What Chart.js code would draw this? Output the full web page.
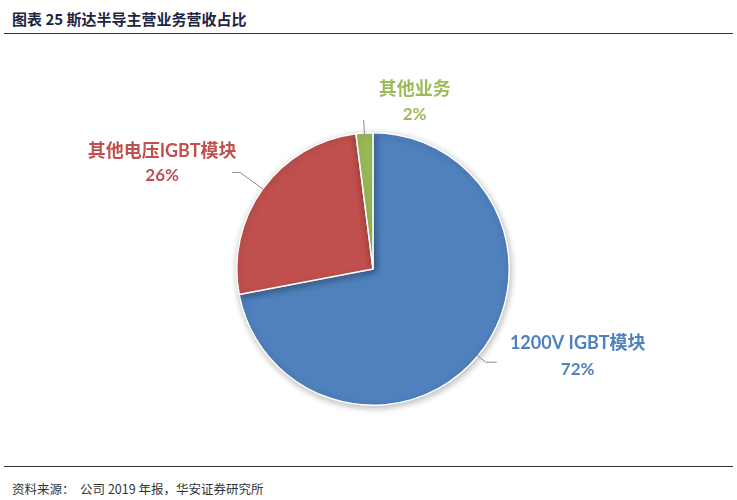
<!DOCTYPE html>
<html>
<head>
<meta charset="utf-8">
<script src="https://cdn.jsdelivr.net/npm/chart.js@4"></script>
<style>
  html, body { margin: 0; padding: 0; background: #fff; width: 737px; height: 500px; overflow: hidden; }
  #title { position: absolute; left: 12px; top: 8px; font: bold 15px "Noto Sans CJK SC", sans-serif; color: #1c2540; }
  #topline { position: absolute; left: 4px; top: 33px; width: 729px; height: 0; border-top: 1.5px solid #333; }
  #botline { position: absolute; left: 4px; top: 466px; width: 729px; height: 0; border-top: 1.5px solid #333; }
  #source { position: absolute; left: 12px; top: 479px; font: 12.5px "Noto Sans CJK SC", sans-serif; color: #333; }
  #wrap { position: absolute; left: 0; top: 40px; width: 737px; height: 420px; }
</style>
</head>
<body>
<div id="title">图表 25 斯达半导主营业务营收占比</div>
<div id="topline"></div>
<div id="wrap"><canvas id="c"></canvas></div>
<div id="botline"></div>
<div id="source">资料来源：&nbsp; 公司 2019 年报，华安证券研究所</div>
<script>
const categories = ["1200V IGBT模块", "其他电压IGBT模块", "其他业务"];
const shares = [72, 26, 2];
const percentLabels = ["72%", "26%", "2%"];
const sliceColors = ["#4F81BD", "#C0504D", "#9BBB59"];

// leader-line / label layout (pixels): radial extension, horizontal run, label offset from line end
const labelLayout = [
  { ext: 10, run: 11, dx: 81, dy1: -19, dy2: 7 },
  { ext: 28, run: -8, dx: -70, dy1: -21, dy2: 3 },
  { ext: 13, run: 0, dx: 51, dy1: -31, dy2: -6 }
];

const shadowPlugin = {
  id: 'shadow',
  beforeDatasetsDraw(chart) {
    const ctx = chart.ctx;
    ctx.save();
    ctx.shadowColor = 'rgba(0,0,0,0.28)';
    ctx.shadowBlur = 7;
    ctx.shadowOffsetX = 1;
    ctx.shadowOffsetY = 2;
  },
  afterDatasetsDraw(chart) {
    chart.ctx.restore();
  }
};

const labelPlugin = {
  id: 'pieLabels',
  afterDraw(chart) {
    const ctx = chart.ctx;
    const meta = chart.getDatasetMeta(0);
    meta.data.forEach((arc, i) => {
      const p = arc.getProps(['x', 'y', 'startAngle', 'endAngle', 'outerRadius'], true);
      const mid = (p.startAngle + p.endAngle) / 2;
      const L = labelLayout[i];
      const sx = p.x + Math.cos(mid) * (p.outerRadius - 2);
      const sy = p.y + Math.sin(mid) * (p.outerRadius - 2);
      const ex = p.x + Math.cos(mid) * (p.outerRadius + L.ext);
      const ey = p.y + Math.sin(mid) * (p.outerRadius + L.ext);
      const hx = ex + L.run;
      ctx.save();
      ctx.strokeStyle = '#8c8c8c';
      ctx.lineWidth = 1;
      ctx.beginPath();
      ctx.moveTo(sx, sy);
      ctx.lineTo(ex, ey);
      if (L.run !== 0) ctx.lineTo(hx, ey);
      ctx.stroke();
      ctx.fillStyle = sliceColors[i];
      ctx.textAlign = 'center';
      ctx.textBaseline = 'middle';
      ctx.font = 'bold 18px Lato, "Noto Sans CJK SC", sans-serif';
      ctx.fillText(categories[i], hx + L.dx, ey + L.dy1);
      ctx.font = 'bold 17px Lato, "Noto Sans CJK SC", sans-serif';
      ctx.fillText(percentLabels[i], hx + L.dx, ey + L.dy2);
      ctx.restore();
    });
  }
};

new Chart(document.getElementById('c'), {
  type: 'pie',
  data: {
    labels: categories,
    datasets: [{
      data: shares,
      backgroundColor: sliceColors,
      borderColor: '#ffffff',
      borderWidth: 1.5
    }]
  },
  options: {
    responsive: true,
    maintainAspectRatio: false,
    animation: false,
    layout: { padding: { top: 92, bottom: 54, left: 9, right: 0 } },
    plugins: {
      legend: { display: false },
      tooltip: { enabled: false },
      title: { display: false }
    }
  },
  plugins: [shadowPlugin, labelPlugin]
});
</script>
</body>
</html>
